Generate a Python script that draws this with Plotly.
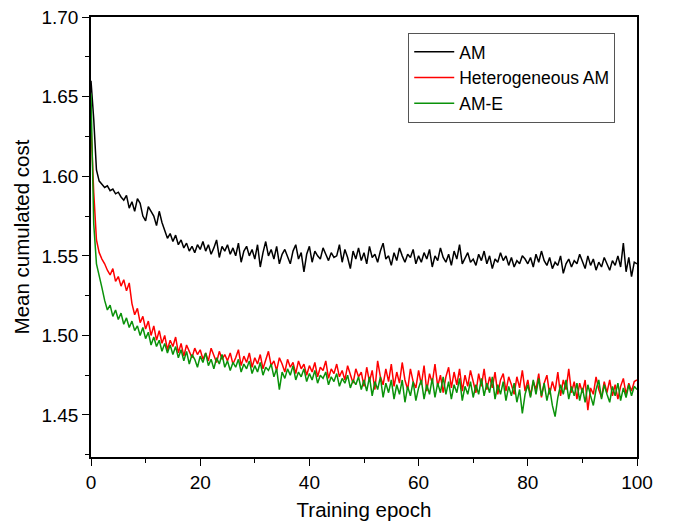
import plotly.graph_objects as go

# Training epochs sampled every half epoch (0 .. 100)
epochs = [i * 0.5 for i in range(201)]

am = [
    1.660, 1.636, 1.604, 1.597, 1.595, 1.593, 1.594, 1.591, 1.592, 1.589,
    1.590, 1.587, 1.585, 1.588, 1.580, 1.584, 1.578, 1.586, 1.583, 1.575,
    1.572, 1.581, 1.578, 1.575, 1.569, 1.578, 1.571, 1.566, 1.561, 1.564,
    1.559, 1.563, 1.557, 1.560, 1.555, 1.558, 1.553, 1.556, 1.552, 1.557,
    1.554, 1.559, 1.553, 1.557, 1.551, 1.555, 1.560, 1.549, 1.556, 1.553,
    1.557, 1.551, 1.555, 1.550, 1.558, 1.546, 1.553, 1.556, 1.550, 1.554,
    1.548, 1.557, 1.543, 1.552, 1.559, 1.550, 1.554, 1.548, 1.556, 1.545,
    1.551, 1.554, 1.549, 1.545, 1.553, 1.557, 1.548, 1.552, 1.540, 1.551,
    1.556, 1.546, 1.553, 1.550, 1.548, 1.555, 1.551, 1.547, 1.552, 1.549,
    1.550, 1.557, 1.546, 1.554, 1.549, 1.542, 1.553, 1.548, 1.555, 1.547,
    1.552, 1.545, 1.556, 1.549, 1.551, 1.546, 1.553, 1.558, 1.548, 1.550,
    1.544, 1.552, 1.547, 1.555, 1.550, 1.546, 1.551, 1.549, 1.554, 1.545,
    1.550, 1.546, 1.552, 1.548, 1.554, 1.543, 1.550, 1.547, 1.555, 1.549,
    1.546, 1.551, 1.544, 1.553, 1.548, 1.557, 1.545, 1.549, 1.552, 1.546,
    1.548, 1.544, 1.551, 1.547, 1.553, 1.545, 1.550, 1.542, 1.548, 1.546,
    1.552, 1.547, 1.550, 1.544, 1.549, 1.543, 1.547, 1.545, 1.550, 1.548,
    1.545, 1.549, 1.543, 1.551, 1.546, 1.553, 1.547, 1.544, 1.549, 1.542,
    1.546, 1.544, 1.550, 1.539, 1.545, 1.548, 1.543, 1.547, 1.545, 1.551,
    1.546, 1.542, 1.550, 1.544, 1.548, 1.541, 1.546, 1.543, 1.549, 1.545,
    1.541, 1.547, 1.544, 1.550, 1.543, 1.558, 1.540, 1.549, 1.537, 1.546,
    1.545,
]

het_am = [
    1.632, 1.590, 1.560, 1.552, 1.548, 1.545, 1.541, 1.538, 1.542, 1.534,
    1.537, 1.531, 1.535, 1.528, 1.533, 1.520, 1.513, 1.517, 1.508, 1.512,
    1.504, 1.509, 1.500, 1.506, 1.497, 1.503, 1.495, 1.500, 1.491, 1.497,
    1.493, 1.499, 1.489, 1.495, 1.487, 1.494, 1.490, 1.486, 1.492, 1.488,
    1.491, 1.485, 1.489, 1.484, 1.492, 1.487, 1.483, 1.490, 1.485, 1.488,
    1.484, 1.489, 1.482, 1.486, 1.491, 1.481, 1.487, 1.483, 1.489, 1.480,
    1.486, 1.482, 1.488, 1.479, 1.485, 1.490, 1.481, 1.484, 1.478, 1.486,
    1.482, 1.477, 1.485, 1.480, 1.483, 1.476, 1.484, 1.479, 1.482, 1.475,
    1.481, 1.477, 1.483, 1.474, 1.480, 1.478, 1.484, 1.473, 1.479, 1.476,
    1.482, 1.474, 1.478, 1.472, 1.481, 1.476, 1.470, 1.479, 1.474, 1.477,
    1.468, 1.480, 1.471, 1.478, 1.466, 1.484, 1.474, 1.469, 1.479, 1.471,
    1.482, 1.468, 1.477, 1.470, 1.483, 1.472, 1.466, 1.479, 1.471, 1.467,
    1.478, 1.469, 1.481, 1.465, 1.476, 1.470, 1.482, 1.468, 1.475, 1.464,
    1.474, 1.480, 1.467, 1.477, 1.469, 1.479, 1.465, 1.475, 1.468, 1.478,
    1.471, 1.464, 1.476, 1.468, 1.479, 1.466, 1.474, 1.467, 1.477, 1.463,
    1.472, 1.476, 1.465, 1.474, 1.469, 1.463, 1.474, 1.467, 1.478, 1.465,
    1.472, 1.462, 1.471, 1.466, 1.476, 1.461, 1.470, 1.475, 1.463, 1.471,
    1.465, 1.477, 1.462, 1.472, 1.466, 1.479, 1.464, 1.471, 1.460, 1.470,
    1.464, 1.472, 1.453, 1.467, 1.463, 1.474, 1.466, 1.461, 1.471, 1.464,
    1.472, 1.462, 1.469, 1.460, 1.468, 1.473, 1.463, 1.470, 1.465, 1.471,
    1.472,
]

am_e = [
    1.652, 1.570, 1.545, 1.538, 1.530, 1.522, 1.516, 1.519, 1.512, 1.516,
    1.510, 1.514, 1.507, 1.511, 1.505, 1.509, 1.503, 1.506, 1.500, 1.505,
    1.498, 1.502, 1.494, 1.499, 1.493, 1.497, 1.490, 1.495, 1.489, 1.494,
    1.488, 1.493, 1.486, 1.491, 1.484, 1.490, 1.482, 1.488, 1.485, 1.480,
    1.487, 1.483, 1.489, 1.481, 1.485, 1.479, 1.486, 1.482, 1.488, 1.480,
    1.484, 1.478, 1.483, 1.480, 1.485, 1.477, 1.482, 1.479, 1.484, 1.476,
    1.481, 1.477, 1.483, 1.475, 1.480, 1.478, 1.482, 1.474, 1.479, 1.466,
    1.477, 1.473, 1.479, 1.475, 1.481, 1.472, 1.477, 1.474, 1.479, 1.471,
    1.476, 1.472, 1.478, 1.470, 1.475, 1.473, 1.477, 1.469, 1.474, 1.471,
    1.476, 1.468, 1.473, 1.470, 1.475, 1.467, 1.472, 1.469, 1.474, 1.466,
    1.472, 1.465, 1.474, 1.462, 1.471, 1.466, 1.474, 1.461, 1.470, 1.464,
    1.472, 1.460, 1.469, 1.463, 1.472, 1.458, 1.468, 1.462, 1.471, 1.459,
    1.467, 1.472, 1.460, 1.469, 1.463, 1.473, 1.461, 1.470, 1.464, 1.474,
    1.463, 1.471, 1.460, 1.469, 1.464, 1.473, 1.459, 1.468, 1.463, 1.471,
    1.461, 1.469, 1.463, 1.473, 1.462, 1.470, 1.464, 1.474, 1.460, 1.469,
    1.463, 1.471, 1.459, 1.468, 1.462, 1.470, 1.458, 1.466, 1.451, 1.463,
    1.469, 1.461, 1.472, 1.463, 1.473, 1.462, 1.470, 1.459, 1.467, 1.456,
    1.449, 1.461, 1.469, 1.463, 1.472, 1.460, 1.468, 1.462, 1.470, 1.459,
    1.467, 1.458, 1.469, 1.462, 1.456, 1.466, 1.472, 1.460, 1.469, 1.463,
    1.458, 1.468, 1.462, 1.470, 1.459, 1.467, 1.461, 1.469, 1.462, 1.468,
    1.466,
]

series_names = ["AM", "Heterogeneous AM", "AM-E"]
series_colors = ["#000000", "#ff0000", "#0a920a"]
y_ticks = [1.45, 1.50, 1.55, 1.60, 1.65, 1.70]
y_tick_labels = ["1.45", "1.50", "1.55", "1.60", "1.65", "1.70"]

fig = go.Figure()
for name, vals, col in zip(series_names, [am, het_am, am_e], series_colors):
    fig.add_trace(go.Scatter(x=epochs, y=vals, mode="lines", name=name,
                             line=dict(color=col, width=1.5)))

font_family = "Liberation Sans, Arial, sans-serif"
axis_common = dict(
    showline=True, linecolor="black", linewidth=1.5, mirror=True,
    ticks="outside", ticklen=7, tickwidth=1.2, tickcolor="black",
    showgrid=False, zeroline=False, automargin=False, ticklabeloverflow="allow",
    tickfont=dict(family=font_family, size=19, color="black"),
)

fig.update_xaxes(
    range=[0, 100], tick0=0, dtick=20,
    title=dict(text="Training epoch", font=dict(family=font_family, size=20.5, color="black"), standoff=14),
    minor=dict(dtick=10, ticks="outside", ticklen=4, tickcolor="black", tickwidth=1.2),
    **axis_common,
)
fig.update_yaxes(
    range=[1.4236, 1.7001], tickmode="array", tickvals=y_ticks, ticktext=y_tick_labels,
    title=dict(text="Mean cumulated cost", font=dict(family=font_family, size=20.5, color="black"), standoff=6),
    minor=dict(tickmode="array", tickvals=[1.425, 1.475, 1.525, 1.575, 1.625, 1.675],
               ticks="outside", ticklen=4, tickcolor="black", tickwidth=1.2),
    **axis_common,
)

fig.update_layout(
    width=670, height=513,
    margin=dict(l=83, r=41, t=9, b=64),
    plot_bgcolor="white", paper_bgcolor="white",
    font=dict(family=font_family, color="black"),
    legend=dict(x=0.581, y=0.964, xanchor="left", yanchor="top",
                bgcolor="white", bordercolor="#555555", borderwidth=1,
                font=dict(family=font_family, size=17.5, color="black"),
                tracegroupgap=0, itemwidth=40),
    showlegend=True,
)

fig.write_html("out.html")
